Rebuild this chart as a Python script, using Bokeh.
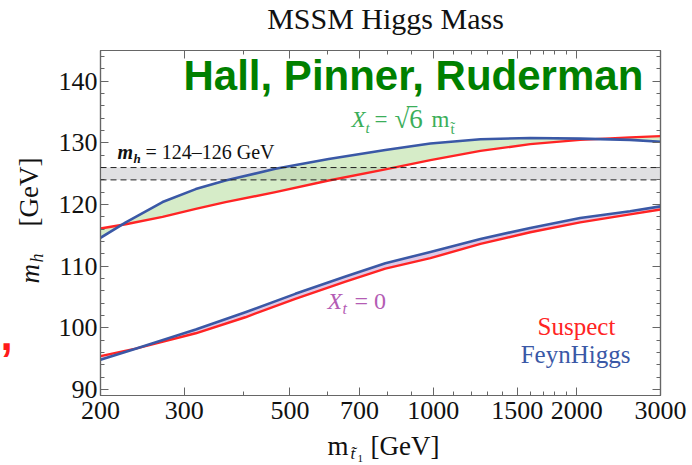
import math
from bokeh.plotting import figure
from bokeh.models import (Range1d, FixedTicker, LinearAxis, LogAxis, Span,
                          BoxAnnotation, ColumnDataSource)
from bokeh.core.properties import value
from bokeh.embed import file_html
from bokeh.resources import INLINE

# ---------------- data ----------------
# Xt = sqrt(6) m_stop branch
M_UP = [200, 226, 270, 317, 366, 466, 603, 793, 986, 1256, 1598, 2034, 2589, 3000]
FH_UP = [114.6, 117.1, 120.4, 122.5, 123.9, 125.8, 127.4, 128.85, 129.9, 130.6,
         130.8, 130.7, 130.5, 130.2]
SU_UP = [116.1, 116.8, 118.0, 119.3, 120.4, 122.0, 123.9, 125.7, 127.2, 128.7,
         129.8, 130.5, 130.9, 131.1]
# Xt = 0 branch
M_LO = [200, 237, 317, 403, 513, 654, 793, 986, 1256, 1598, 2034, 2589, 3000]
FH_LO = [94.8, 96.6, 99.7, 102.5, 105.5, 108.3, 110.45, 112.3, 114.4, 116.2,
         117.8, 118.9, 119.7]
SU_LO = [95.4, 96.6, 99.1, 101.7, 104.7, 107.5, 109.6, 111.3, 113.6, 115.5,
         117.1, 118.4, 119.2]

BAND = [124, 126]

X_RANGE = [200, 3000]
Y_RANGE = [89, 145]
X_TICKS = [200, 300, 500, 700, 1000, 1500, 2000, 3000]
X_TICK_LABELS = ["200", "300", "500", "700", "1000", "1500", "2000", "3000"]
X_MINOR = [400, 600, 800, 900, 1100, 1200, 1300, 1400, 1600, 1700, 1800, 1900]
Y_TICKS = [90, 100, 110, 120, 130, 140]
Y_TICK_LABELS = ["90", "100", "110", "120", "130", "140"]
Y_MINOR = [92, 94, 96, 98, 102, 104, 106, 108, 112, 114, 116, 118, 122, 124, 126,
           128, 132, 134, 136, 138, 142, 144]

# ---------------- layout ----------------
W, H = 692, 465
FL, FR, FT, FB = 100, 660, 50, 395

RED = "#ff2424"
BLUE = "#3a58a6"
SERIF = "Liberation Serif"
SANS = "Liberation Sans"
FRAME = "#666666"

p = figure(width=W, height=H, x_axis_type="log",
           x_range=Range1d(*X_RANGE), y_range=Range1d(*Y_RANGE),
           output_backend="svg", toolbar_location=None,
           min_border_left=FL, min_border_right=W - FR,
           min_border_top=FT, min_border_bottom=H - FB)
p.background_fill_color = "white"
p.border_fill_color = "white"
p.outline_line_color = FRAME
p.outline_line_width = 1.2
p.grid.visible = False


def style_axis(ax, ticks, minor, labels, show):
    ax.ticker = FixedTicker(ticks=ticks, minor_ticks=minor)
    ax.axis_line_color = FRAME
    ax.axis_line_width = 1.2
    ax.major_tick_line_color = FRAME
    ax.minor_tick_line_color = FRAME
    ax.major_tick_in = 8
    ax.major_tick_out = 0
    ax.minor_tick_in = 4
    ax.minor_tick_out = 0
    if show:
        ax.major_label_overrides = {t: l for t, l in zip(ticks, labels)}
        ax.major_label_text_font = SERIF
        ax.major_label_text_font_size = "26px"
        ax.major_label_text_color = "#111111"
    else:
        ax.major_label_overrides = {t: "" for t in ticks}
        ax.major_label_text_font_size = "1px"
        ax.major_label_standoff = 0


style_axis(p.xaxis[0], X_TICKS, X_MINOR, X_TICK_LABELS, True)
p.xaxis[0].major_label_standoff = 6
style_axis(p.yaxis[0], Y_TICKS, Y_MINOR, Y_TICK_LABELS, True)
p.yaxis[0].major_label_standoff = 3

top_ax = LogAxis()
style_axis(top_ax, X_TICKS, X_MINOR, X_TICK_LABELS, False)
p.add_layout(top_ax, "above")
right_ax = LinearAxis()
style_axis(right_ax, Y_TICKS, Y_MINOR, Y_TICK_LABELS, False)
p.add_layout(right_ax, "right")

# ---------------- band 124-126 ----------------
p.add_layout(BoxAnnotation(bottom=BAND[0], top=BAND[1], fill_color="#e0e0e2",
                           fill_alpha=1.0, line_color=None, level="underlay"))

# ---------------- fills ----------------
p.varea(x=M_LO, y1=SU_LO, y2=FH_LO, fill_color="#c79ad0", fill_alpha=0.55)
p.varea(x=M_UP, y1=SU_UP, y2=FH_UP, fill_color="#add991", fill_alpha=0.5)

# ---------------- curves ----------------
for xs, ys in ((M_UP, SU_UP), (M_LO, SU_LO)):
    p.line(xs, ys, line_color=RED, line_width=2.4, line_join="round")
for xs, ys in ((M_UP, FH_UP), (M_LO, FH_LO)):
    p.line(xs, ys, line_color=BLUE, line_width=2.6, line_join="round")

for v in BAND:
    p.add_layout(Span(location=v, dimension="width", line_color="#222222",
                      line_width=1, line_dash="6 4"))


# ---------------- texts (text glyphs on the overlay level) ----------------
def dx(px):
    return X_RANGE[0] * (X_RANGE[1] / X_RANGE[0]) ** ((px - FL) / (FR - FL))


def dy(py):
    return Y_RANGE[0] + (FB - py) * (Y_RANGE[1] - Y_RANGE[0]) / (FB - FT)


T = dict(x=[], y=[], text=[], size=[], color=[], font=[], style=[], align=[],
         angle=[])
SHIFT = 0.33  # measured offset of the drawn baseline, as a fraction of size


def lab(px, py, text, size, color="#111111", font=SERIF, style="normal",
        align="left", angle=0.0):
    px = px - SHIFT * size * math.sin(angle)
    py = py - SHIFT * size * math.cos(angle)
    T["x"].append(dx(px))
    T["y"].append(dy(py))
    T["text"].append(text)
    T["size"].append(f"{size}px")
    T["color"].append(color)
    T["font"].append(font)
    T["style"].append(style)
    T["align"].append(align)
    T["angle"].append(angle)


# title
lab(385, 28, "MSSM Higgs Mass", 30, align="center")
# authors
lab(183, 89, "Hall, Pinner, Ruderman", 42, color="#008000", font=SANS,
    style="bold")
# stray red comma at left edge
lab(0, 349, ",", 44, color="#ff1a1a", font=SANS, style="bold")

# m_h = 124-126 GeV
lab(117, 158, "m", 20, style="bold italic")
lab(133, 162, "h", 13, style="bold italic")
lab(145, 158, "= 124\u2013126 GeV", 20)

# Xt = sqrt6 m_t
GREEN = "#3bae5a"
lab(351, 127, "X", 23, color=GREEN, style="italic")
lab(365, 132, "t", 15, color=GREEN, style="italic")
lab(374, 127, "=", 23, color=GREEN)
lab(394, 127, "\u221a6", 27, color=GREEN)
lab(407, 127, "\u203e", 27, color=GREEN)
lab(431, 127, "m", 23, color=GREEN)
lab(450, 133, "t\u0303", 15, color=GREEN)

# Xt = 0
PURPLE = "#b45cb4"
lab(327, 308, "X", 24, color=PURPLE, style="italic")
lab(342, 313, "t", 16, color=PURPLE, style="italic")
lab(354, 308, "= 0", 24, color=PURPLE)

# legend words
lab(576, 334, "Suspect", 25, color=RED, align="center")
lab(575, 362, "FeynHiggs", 25, color=BLUE, align="center")

# x-axis label  m_{t~1}  [GeV]
lab(327, 454, "m", 27)
lab(350, 459, "t\u0303", 17, style="italic")
lab(357, 462, "1", 11)
lab(370, 454, "[GeV]", 27)

# y-axis label  m_h  [GeV]  (rotated)
ROT = math.pi / 2
lab(38, 283, "m", 27, style="italic", angle=ROT)
lab(42, 262, "h", 18, style="italic", angle=ROT)
lab(37, 226, "[GeV]", 27, angle=ROT)

src = ColumnDataSource(T)
p.text(x="x", y="y", text="text", source=src, text_font="font",
       text_font_size="size", text_font_style="style", text_color="color",
       text_align="align", text_baseline=value("alphabetic"), angle="angle",
       level="overlay")

open("out.html", "w").write(file_html(p, INLINE))
